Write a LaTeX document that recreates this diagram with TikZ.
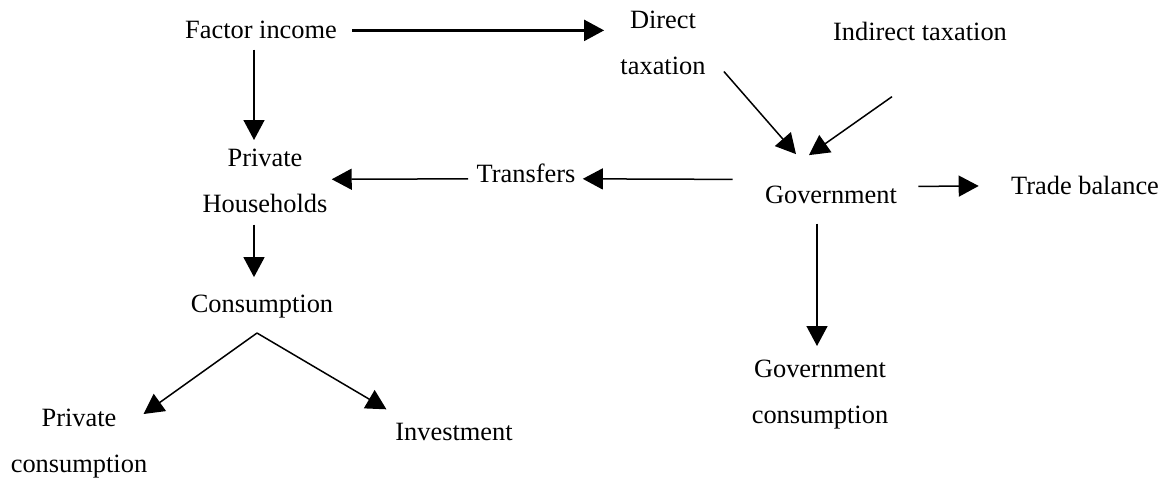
\documentclass[tikz,border=0pt]{standalone}
\usepackage{fontspec}
\setmainfont{Liberation Serif}
\usetikzlibrary{arrows.meta,calc}

\begin{document}
\begin{tikzpicture}
    [ x=.5pt, y=-.5pt,
      font=\fontsize{13.2}{23}\selectfont,
      txt/.style={inner sep=0pt, anchor=base},
      txtml/.style={inner sep=0pt, anchor=north, align=center},
      flow/.style={->, line width=.75pt},
      >={Triangle[length=10pt,width=10.5pt]},
    ]
    \useasboundingbox (0, 0) rectangle (1176, 482);

    \node[txt] (fi) at (261, 39) {Factor income};
    \node[txtml] (dt) at (663, 11) {Direct\\taxation};
    \node[txt] (it) at (920, 40) {Indirect taxation};
    \node[txtml] (ph) at (265, 149) {Private\\Households};
    \node[txt] (tr) at (526, 182) {Transfers};
    \node[txt] (gov) at (831, 203) {Government};
    \node[txt] (tb) at (1085, 194) {Trade balance};
    \node[txt] (con) at (262, 312) {Consumption};
    \node[txtml] (gc) at (820, 360) {Government\\consumption};
    \node[txtml] (pc) at (79, 409) {Private\\consumption};
    \node[txt] (inv) at (454, 440) {Investment};

    \draw[flow, line width=1.15pt] ($ (fi.east)+(15,0) $) -- ($ (fi.east -| dt.west)+(-16,0) $);
    \draw[flow] ($ (fi.south)+(-7,10) $) -- ($ (fi.south |- ph.north)+(-7,-9) $);
    \draw[flow] ($ (dt.south east)+(18,-4) $) -- ($ (gov.north)+(-35,-31) $);
    \draw[flow] ($ (it.south)+(-28,56) $) -- ($ (gov.north)+(-22,-30) $);
    \draw[flow] ($ (gov.west)+(-32,-15) $) -- ($ (tr.east)+(7,6) $);
    \draw[flow] ($ (tr.west)+(-8,6) $) -- ($ (ph.east)+(4,-2) $);
    \draw[flow] ($ (gov.east)+(21,-8) $) -- ($ (tb.west)+(-32,1) $);
    \draw[flow] ($ (gov.south)+(-14,20) $) -- ($ (gc.north)+(-3,-14) $);
    \draw[flow] ($ (ph.south)+(-11,11) $) -- ($ (con.north)+(-8,-17) $);
    \draw[flow] ($ (con.south)+(-5,15) $) -- ($ (pc.north east)+(-4,5) $);
    \draw[flow] ($ (con.south)+(-5,15) $) -- ($ (inv.north west)+(-8.5,-13) $);
\end{tikzpicture}
\end{document}
